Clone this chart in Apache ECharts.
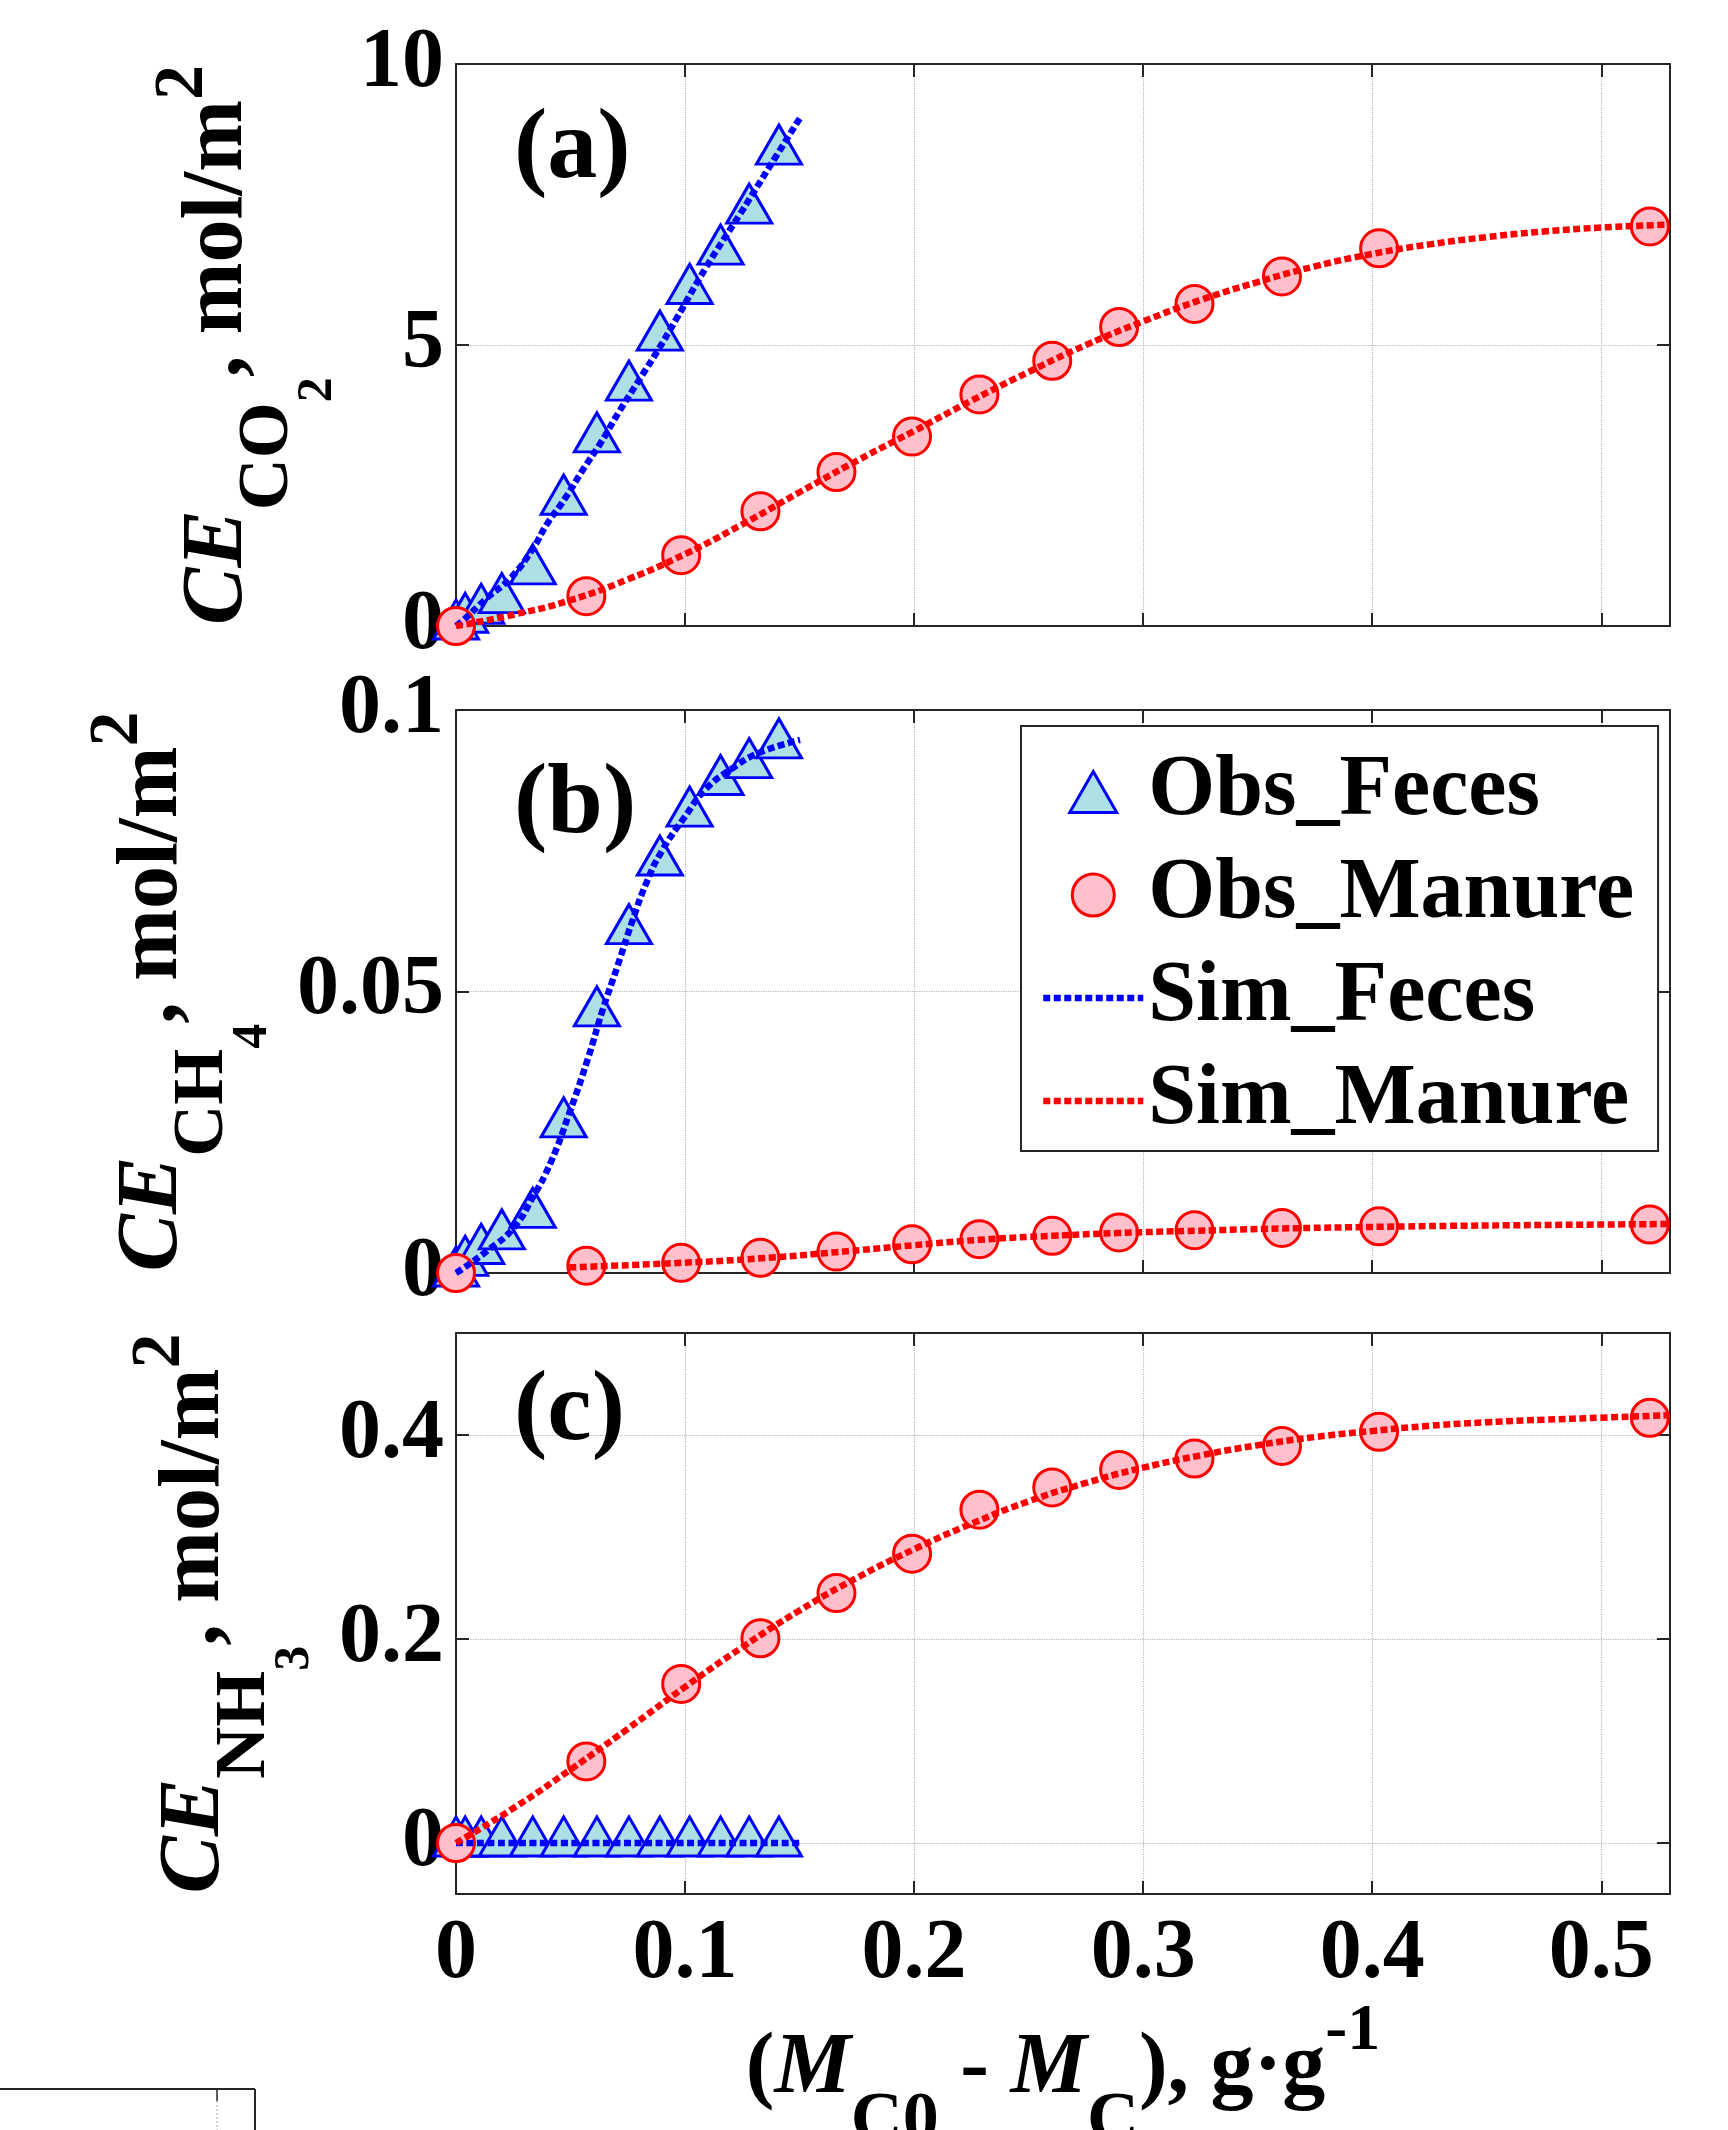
<!DOCTYPE html>
<html>
<head>
<meta charset="utf-8">
<title>Cumulative emissions vs (MC0 - MC)</title>
<script src="https://cdn.jsdelivr.net/npm/echarts@6.0.0/dist/echarts.min.js"></script>
<style>
  html, body { margin: 0; padding: 0; background: #fff; }
  #chart { width: 1728px; height: 2130px; }
</style>
</head>
<body>
<div id="chart"></div>
<script>
// x positions of the observations, g/g
const fecesX = [0, 0.004, 0.011, 0.020, 0.0335, 0.047, 0.0615, 0.0755, 0.089, 0.102, 0.1155, 0.128, 0.141]
const manureX = [0, 0.0569, 0.0983, 0.1329, 0.1661, 0.1991, 0.2285, 0.2603, 0.2895, 0.3224, 0.3606, 0.403, 0.5212]

// (a) CO2, mol/m2
const co2FecesObs = [0, 0.12, 0.28, 0.47, 0.98, 2.22, 3.33, 4.25, 5.14, 5.97, 6.67, 7.40, 8.45]
const co2ManureObs = [0, 0.53, 1.26, 2.04, 2.74, 3.37, 4.12, 4.72, 5.32, 5.73, 6.22, 6.72, 7.11]
const co2FecesSimX = [0, 0.0024, 0.0133, 0.0242, 0.0336, 0.0398, 0.0476, 0.0554, 0.0632, 0.071, 0.0803, 0.0882, 0.096, 0.109, 0.124, 0.1396, 0.1508]
const co2FecesSim = [0, 0.075, 0.49, 0.87, 1.38, 1.82, 2.27, 2.78, 3.26, 3.80, 4.40, 4.91, 5.45, 6.37, 7.33, 8.35, 9.08]
const co2ManureSimX = [0, 0.025, 0.05, 0.075, 0.1, 0.125, 0.15, 0.175, 0.2, 0.225, 0.25, 0.275, 0.3, 0.325, 0.35, 0.375, 0.4, 0.425, 0.45, 0.475, 0.5, 0.529]
const co2ManureSim = [0, 0.20, 0.46, 0.83, 1.28, 1.81, 2.38, 2.94, 3.47, 4.01, 4.52, 5.00, 5.42, 5.80, 6.12, 6.40, 6.62, 6.79, 6.92, 7.02, 7.09, 7.14]

// (b) CH4, mol/m2
const ch4FecesObs = [0, 0.0019, 0.0040, 0.0066, 0.0104, 0.0265, 0.0462, 0.0608, 0.0730, 0.0817, 0.0873, 0.0903, 0.0938]
const ch4ManureObs = [0, 0.0013, 0.0018, 0.0027, 0.0038, 0.0051, 0.0060, 0.0066, 0.0072, 0.0076, 0.0080, 0.0083, 0.0086]
const ch4FecesSimX = [0, 0.0027, 0.0138, 0.0249, 0.0332, 0.0414, 0.0494, 0.0576, 0.0640, 0.0705, 0.0769, 0.0834, 0.0898, 0.0995, 0.1092, 0.1205, 0.1318, 0.1502]
const ch4FecesSim = [0, 0.0007, 0.0040, 0.0079, 0.0132, 0.0197, 0.0283, 0.0381, 0.0467, 0.0545, 0.0624, 0.0696, 0.0749, 0.0808, 0.0860, 0.0896, 0.0923, 0.0947]
const ch4ManureSimX = [0.0495, 0.0983, 0.1329, 0.1661, 0.1991, 0.2285, 0.2603, 0.2895, 0.3224, 0.3606, 0.403, 0.44, 0.529]
const ch4ManureSim = [0.0010, 0.0018, 0.0026, 0.0037, 0.0049, 0.0059, 0.0066, 0.0071, 0.0075, 0.0079, 0.0082, 0.0084, 0.0087]

// (c) NH3, mol/m2
const nh3FecesObs = [0, 0, 0, 0, 0, 0, 0, 0, 0, 0, 0, 0, 0]
const nh3ManureObs = [0, 0.080, 0.156, 0.2007, 0.245, 0.2836, 0.3268, 0.3486, 0.3658, 0.3769, 0.3893, 0.4032, 0.4169]
const nh3FecesSimX = [0, 0.151]
const nh3FecesSim = [0, 0]
const nh3ManureSimX = [0, 0.025, 0.05, 0.075, 0.1, 0.125, 0.15, 0.175, 0.2, 0.225, 0.25, 0.275, 0.3, 0.325, 0.35, 0.375, 0.4, 0.425, 0.45, 0.475, 0.5, 0.5297]
const nh3ManureSim = [0, 0.034, 0.072, 0.112, 0.153, 0.192, 0.228, 0.260, 0.288, 0.313, 0.335, 0.353, 0.368, 0.380, 0.390, 0.398, 0.404, 0.409, 0.4125, 0.415, 0.417, 0.4194]

// tick labels
const xTicks = [0, 0.1, 0.2, 0.3, 0.4, 0.5]
const co2Ticks = [0, 5, 10]
const ch4Ticks = [0, 0.05, 0.1]
const nh3Ticks = [0, 0.2, 0.4]

const seriesNames = ['Obs_Feces', 'Obs_Manure', 'Sim_Feces', 'Sim_Manure']
const panelTags = ['(a)', '(b)', '(c)']

const FONT = "'Liberation Serif', 'Times New Roman', serif"
const AXIS_COLOR = '#262626'
const BLUE = '#0000ff'
const RED = '#ff0000'
const SIM_LINE = { width: 6.5, type: [7, 3.5] }

const pairs = (xs, ys) => xs.map((x, i) => [x, ys[i]])

const panels = [
  {
    top: 64, height: 562, yMin: 0, yMax: 10, ticks: co2Ticks, gas: 'CO', idx: '2', nameGap: 138, tagY: 151,
    fecesObs: co2FecesObs, manureObs: co2ManureObs,
    fecesSim: pairs(co2FecesSimX, co2FecesSim), manureSim: pairs(co2ManureSimX, co2ManureSim)
  },
  {
    top: 710, height: 563, yMin: 0, yMax: 0.1, ticks: ch4Ticks, gas: 'CH', idx: '4', nameGap: 203, tagY: 806,
    fecesObs: ch4FecesObs, manureObs: ch4ManureObs,
    fecesSim: pairs(ch4FecesSimX, ch4FecesSim), manureSim: pairs(ch4ManureSimX, ch4ManureSim)
  },
  {
    top: 1333, height: 561, yMin: -0.05, yMax: 0.5, ticks: nh3Ticks, gas: 'NH', idx: '3', nameGap: 161, tagY: 1413,
    fecesObs: nh3FecesObs, manureObs: nh3ManureObs,
    fecesSim: pairs(nh3FecesSimX, nh3FecesSim), manureSim: pairs(nh3ManureSimX, nh3ManureSim)
  }
]

const labelFont = { fontFamily: FONT, fontWeight: 'bold', fontSize: 84, color: '#000' }
// rich token: box height h, top-aligned, so its middle sits h/2 below the line top
const tok = (size, h, italic) => ({
  fontFamily: FONT, fontWeight: 'bold', fontStyle: italic ? 'italic' : 'normal',
  fontSize: size, height: h, lineHeight: h, verticalAlign: 'top', color: '#000'
})

const yNameRich = {
  ci: tok(86, 100, true),
  m: tok(86, 100, false),
  sub: tok(72, 199, false),
  ss: tok(50, 298, false),
  sup: tok(70, 29, false)
}

const xNameRich = {
  p: tok(86, 100, false),
  mi: tok(86, 100, true),
  sub: tok(72, 205, false),
  sup: tok(66, 24, false)
}

const axisLine = { show: true, onZero: false, lineStyle: { color: AXIS_COLOR, width: 2 } }
const tickStyle = (values) => ({
  show: true, inside: true, length: 13, customValues: values,
  lineStyle: { color: AXIS_COLOR, width: 2 }
})
const gridLine = { lineStyle: { type: 'dotted', color: '#b4b4b4', width: 1.2 } }

const grid = panels.map(p => ({
  left: 456, width: 1214, top: p.top, height: p.height,
  containLabel: false, outerBoundsMode: 'none'
}))

const xAxis = []
const yAxis = []
const series = []

panels.forEach((p, i) => {
  const last = i === panels.length - 1
  xAxis.push({
    type: 'value', gridIndex: i, position: 'bottom', min: 0, max: 0.53,
    axisLine, axisTick: tickStyle(xTicks),
    axisLabel: { show: last, customValues: xTicks, margin: 19, ...labelFont },
    splitLine: { show: true, ...gridLine },
    ...(last ? {
      name: '{p|(}{mi|M}{sub|C0}{p| - }{mi|M}{sub|C}{p|), g·g}{sup|-1}',
      nameLocation: 'middle', nameGap: 228, nameMoveOverlap: false,
      nameTextStyle: { verticalAlign: 'middle', fontFamily: FONT, rich: xNameRich }
    } : {})
  })
  xAxis.push({
    type: 'value', gridIndex: i, position: 'top', min: 0, max: 0.53,
    axisLine, axisTick: tickStyle(xTicks),
    axisLabel: { show: false, customValues: xTicks },
    splitLine: { show: false }
  })
  yAxis.push({
    type: 'value', gridIndex: i, position: 'left', min: p.yMin, max: p.yMax,
    axisLine, axisTick: tickStyle(p.ticks),
    axisLabel: { show: true, customValues: p.ticks, margin: 12, ...labelFont },
    splitLine: { show: true, ...gridLine },
    name: '{ci|CE}{sub|' + p.gas + '}{ss|' + p.idx + '}{m|, mol/m}{sup|2}',
    nameLocation: 'middle', nameGap: p.nameGap, nameMoveOverlap: false,
    nameTextStyle: { verticalAlign: 'middle', fontFamily: FONT, rich: yNameRich }
  })
  yAxis.push({
    type: 'value', gridIndex: i, position: 'right', min: p.yMin, max: p.yMax,
    axisLine, axisTick: tickStyle(p.ticks),
    axisLabel: { show: false, customValues: p.ticks },
    splitLine: { show: false }
  })

  const axes = { xAxisIndex: 2 * i, yAxisIndex: 2 * i }
  series.push({
    name: 'Obs_Feces', type: 'scatter', ...axes, clip: false,
    data: pairs(fecesX, p.fecesObs),
    symbol: 'triangle', symbolSize: [45, 39], symbolOffset: [0, -6.5],
    itemStyle: { color: '#ace0e4', borderColor: BLUE, borderWidth: 3, opacity: 1 },
    emphasis: { disabled: true }
  })
  series.push({
    name: 'Obs_Manure', type: 'scatter', ...axes, clip: false,
    data: pairs(manureX, p.manureObs),
    symbol: 'circle', symbolSize: 37,
    itemStyle: { color: '#ffc0cb', borderColor: RED, borderWidth: 3, opacity: 1 },
    emphasis: { disabled: true }
  })
  series.push({
    name: 'Sim_Feces', type: 'line', ...axes,
    data: p.fecesSim, symbol: 'none', smooth: 0.5,
    itemStyle: { color: BLUE },
    lineStyle: { color: BLUE, ...SIM_LINE },
    emphasis: { disabled: true }
  })
  series.push({
    name: 'Sim_Manure', type: 'line', ...axes,
    data: p.manureSim, symbol: 'none', smooth: 0.5,
    itemStyle: { color: RED },
    lineStyle: { color: RED, ...SIM_LINE },
    emphasis: { disabled: true }
  })
})

const graphic = panelTags.map((t, i) => ({
  type: 'text', x: 514, y: panels[i].tagY, z: 10,
  style: {
    text: t, font: 'bold 100px ' + FONT, fill: '#000',
    align: 'left', verticalAlign: 'middle', textAlign: 'left', textVerticalAlign: 'middle'
  }
}))

// corner of a neighbouring frame cut off at the bottom left of the figure
graphic.push(
  { type: 'line', shape: { x1: 0, y1: 2089, x2: 255, y2: 2089 }, style: { stroke: AXIS_COLOR, lineWidth: 2 } },
  { type: 'line', shape: { x1: 255, y1: 2089, x2: 255, y2: 2130 }, style: { stroke: AXIS_COLOR, lineWidth: 2 } },
  { type: 'line', shape: { x1: 217, y1: 2089, x2: 217, y2: 2101 }, style: { stroke: AXIS_COLOR, lineWidth: 1.5 } },
  { type: 'line', shape: { x1: 217, y1: 2101, x2: 217, y2: 2130 }, style: { stroke: '#b4b4b4', lineWidth: 1.2, lineDash: [2, 2] } }
)

// legend icons: narrow triangle centred in the wide icon box, plain lines for the simulations
const triangleIcon = 'path://M-50,0L-50,0.01M0,-20.5L23.5,20.5L-23.5,20.5ZM50,0L50,0.01'
const legendData = [
  { name: seriesNames[0], icon: triangleIcon },
  { name: seriesNames[1], icon: 'circle' },
  { name: seriesNames[2], itemStyle: { opacity: 0 } },
  { name: seriesNames[3], itemStyle: { opacity: 0 } }
]

const chart = echarts.init(document.getElementById('chart'), null, { renderer: 'canvas' })
chart.setOption({
  animation: false,
  backgroundColor: '#fff',
  grid,
  xAxis,
  yAxis,
  series,
  graphic,
  legend: {
    data: legendData,
    orient: 'vertical',
    left: 1021, top: 726,
    padding: [21, 24, 5, 19],
    itemWidth: 100, itemHeight: 42, itemGap: 13,
    borderColor: AXIS_COLOR, borderWidth: 2,
    backgroundColor: '#fff',
    selectedMode: false,
    symbolKeepAspect: true,
    itemStyle: { borderWidth: 3 },
    lineStyle: { width: SIM_LINE.width },
    textStyle: { fontFamily: FONT, fontWeight: 'bold', fontSize: 86, lineHeight: 90, color: '#000' }
  }
})
</script>
</body>
</html>
